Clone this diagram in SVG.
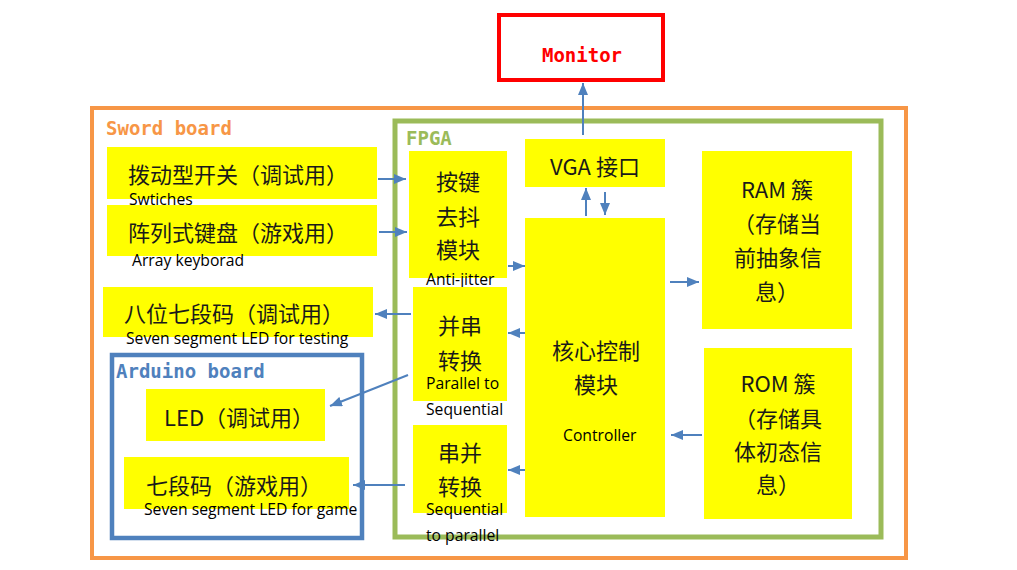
<svg xmlns="http://www.w3.org/2000/svg" width="1017" height="570" viewBox="0 0 1017 570">
<style>
.box{fill:#FFFF00;stroke:none}
.cn{font-family:"Noto Sans CJK SC","Noto Sans",sans-serif;font-size:22px;fill:#1a1a1a}
.cnm{font-family:"Noto Sans CJK SC","Noto Sans",sans-serif;font-size:22px;fill:#1a1a1a;text-anchor:middle}
.en{font-family:"Open Sans","Liberation Sans",sans-serif;font-size:15.7px;fill:#000}
.title{font-family:"DejaVu Sans Mono","Liberation Mono",monospace;font-size:19px;font-weight:bold}
.arr{stroke:#4F81BD;stroke-width:2;fill:none;marker-end:url(#ah)}
</style>
<defs>
<marker id="ah" viewBox="0 0 12 10" refX="12" refY="5" markerWidth="12" markerHeight="10" markerUnits="userSpaceOnUse" orient="auto">
<path d="M0,0 L12,5 L0,10 z" fill="#4F81BD"/>
</marker>
</defs>
<rect width="1017" height="570" fill="#fff"/>

<g id="monitor">
<rect x="499" y="15" width="164" height="65" fill="#fff" stroke="#FF0000" stroke-width="4"/>
<text x="582" y="62" class="title" fill="#FF0000" text-anchor="middle">Monitor</text>
</g>

<g id="sword-board">
<rect x="92" y="108" width="814" height="450" fill="none" stroke="#F79646" stroke-width="4"/>
<text x="106" y="135" class="title" fill="#F79646">Sword board</text>
</g>

<g id="fpga">
<rect x="395" y="121" width="486" height="416" fill="none" stroke="#9BBB59" stroke-width="5"/>
<text x="406" y="145" class="title" fill="#9BBB59">FPGA</text>
</g>

<g id="arduino-board">
<rect x="112" y="355" width="250" height="183" fill="none" stroke="#4F81BD" stroke-width="4.5"/>
<text x="116" y="378" class="title" fill="#4F81BD">Arduino board</text>
</g>

<g id="switches">
<rect class="box" x="107" y="147" width="270" height="52"/>
<text x="128" y="183" class="cn">拨动型开关（调试用）</text>
<text x="129" y="205" class="en">Swtiches</text>
</g>

<g id="keyboard">
<rect class="box" x="107" y="205" width="270" height="51"/>
<text x="128" y="240.5" class="cn">阵列式键盘（游戏用）</text>
<text x="132" y="266" class="en">Array keyborad</text>
</g>

<g id="anti-jitter">
<rect class="box" x="409" y="151" width="98" height="127"/>
<text x="458" y="189.5" class="cnm">按键</text>
<text x="458" y="224.5" class="cnm">去抖</text>
<text x="458" y="257.5" class="cnm">模块</text>
<text x="426" y="285" class="en">Anti-jitter</text>
</g>

<g id="seg8">
<rect class="box" x="103" y="287" width="270" height="50"/>
<text x="124" y="321.5" class="cn">八位七段码（调试用）</text>
<text x="126" y="344" class="en">Seven segment LED for testing</text>
</g>

<g id="p2s">
<rect class="box" x="413" y="287" width="94" height="114"/>
<text x="460" y="334" class="cnm">并串</text>
<text x="460" y="369" class="cnm">转换</text>
<text x="426" y="389" class="en">Parallel to</text>
<text x="426" y="415" class="en">Sequential</text>
</g>

<g id="led">
<rect class="box" x="146" y="389" width="179" height="52"/>
<text x="164" y="425.5" class="cn">LED（调试用）</text>
</g>

<g id="s2p">
<rect class="box" x="413" y="425" width="94" height="88"/>
<text x="460" y="460.5" class="cnm">串并</text>
<text x="460" y="494.5" class="cnm">转换</text>
<text x="426" y="515" class="en">Sequential</text>
<text x="426" y="541" class="en">to parallel</text>
</g>

<g id="seg7">
<rect class="box" x="124" y="457" width="225" height="52"/>
<text x="146" y="494" class="cn">七段码（游戏用）</text>
<text x="144" y="515" class="en">Seven segment LED  for game</text>
</g>

<g id="vga">
<rect class="box" x="525" y="139" width="140" height="48"/>
<text x="595" y="175" class="cnm">VGA 接口</text>
</g>

<g id="controller">
<rect class="box" x="525" y="218" width="140" height="299"/>
<text x="596" y="358.5" class="cnm">核心控制</text>
<text x="596" y="392.5" class="cnm">模块</text>
<text x="563" y="441" class="en">Controller</text>
</g>

<g id="ram">
<rect class="box" x="702" y="151" width="150" height="178"/>
<text x="777" y="198" class="cnm">RAM 簇</text>
<text x="777" y="231.5" class="cnm">（存储当</text>
<text x="778" y="265.5" class="cnm">前抽象信</text>
<text x="777" y="299.5" class="cnm">息）</text>
</g>

<g id="rom">
<rect class="box" x="704" y="348" width="148" height="171"/>
<text x="778" y="391.5" class="cnm">ROM 簇</text>
<text x="778" y="426.5" class="cnm">（存储具</text>
<text x="778" y="459.5" class="cnm">体初态信</text>
<text x="778" y="492.5" class="cnm">息）</text>
</g>

<g id="connectors">
<line class="arr" x1="583" y1="135" x2="583" y2="83"/>
<line class="arr" x1="586" y1="216" x2="586" y2="188"/>
<line class="arr" x1="605" y1="192" x2="605" y2="215"/>
<line class="arr" x1="378" y1="179" x2="406" y2="179"/>
<line class="arr" x1="379" y1="232" x2="407" y2="232"/>
<line class="arr" x1="508" y1="266" x2="525" y2="266"/>
<line class="arr" x1="670" y1="282" x2="699" y2="282"/>
<line class="arr" x1="702" y1="435" x2="671" y2="435"/>
<line class="arr" x1="525" y1="333" x2="508" y2="333"/>
<line class="arr" x1="525" y1="470" x2="508" y2="470"/>
<line class="arr" x1="411" y1="314" x2="375" y2="314"/>
<line class="arr" x1="408" y1="375" x2="330" y2="406"/>
<line class="arr" x1="405" y1="485" x2="353" y2="485"/>
</g>
</svg>
